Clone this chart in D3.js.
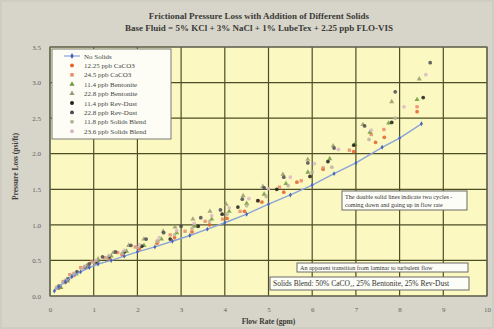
<!DOCTYPE html>
<html>
<head>
<meta charset="utf-8">
<script src="https://cdn.jsdelivr.net/npm/d3@7"></script>
<style>
  body { margin: 0; background: #d7d5ca; }
  svg { display: block; font-family: "Liberation Serif", "DejaVu Serif", serif; }
</style>
</head>
<body>
<svg id="Chart"></svg>
<script>
// ---- data ----
let seriesNames = ['No Solids', '12.25 ppb CaCO3', '24.5 ppb CaCO3', '11.4 ppb Bentonite',
  '22.8 ppb Bentonite', '11.4 ppb Rev-Dust', '22.8 ppb Rev-Dust', '11.8 ppb Solids Blend', '23.6 ppb Solids Blend'];

let noSolidsFlow = [0.1, 0.2, 0.35, 0.5, 0.7, 0.9, 1.1, 1.4, 1.7, 2.0, 2.4, 2.8, 3.2, 3.6, 4.0, 4.5, 5.0, 5.5, 6.0, 6.5, 7.0, 7.6, 8.0, 8.5];
let noSolidsLoss = [0.07, 0.13, 0.2, 0.27, 0.34, 0.4, 0.45, 0.5, 0.56, 0.62, 0.69, 0.77, 0.85, 0.94, 1.03, 1.15, 1.29, 1.42, 1.56, 1.72, 1.87, 2.09, 2.22, 2.42];

let caco3LowFlow = [0.2, 0.35, 0.55, 0.8, 1.05, 1.35, 1.65, 2.05, 2.45, 2.85, 3.25, 3.65, 4.05, 4.45, 4.85, 5.35, 5.65, 6.25, 6.95, 7.45, 7.65, 8.4];
let caco3LowLoss = [0.11, 0.19, 0.29, 0.39, 0.46, 0.52, 0.58, 0.66, 0.74, 0.82, 0.9, 1.0, 1.09, 1.19, 1.32, 1.46, 1.6, 1.78, 2.03, 2.16, 2.23, 2.59];

let caco3HighFlow = [0.15, 0.3, 0.45, 0.7, 0.95, 1.25, 1.55, 1.95, 2.47, 2.75, 3.09, 3.55, 3.95, 4.35, 4.75, 5.25, 5.75, 6.25, 6.85, 7.35, 7.64, 8.4];
let caco3HighLoss = [0.12, 0.2, 0.3, 0.4, 0.48, 0.54, 0.61, 0.69, 0.77, 0.86, 0.91, 1.05, 1.08, 1.19, 1.34, 1.53, 1.62, 1.8, 2.05, 2.27, 2.34, 2.66];

let bentLowFlow = [0.25, 0.4, 0.6, 0.85, 1.1, 1.4, 1.75, 2.15, 2.55, 2.9, 3.3, 3.7, 4.1, 4.5, 4.9, 5.4, 5.9, 6.4, 6.98, 7.32, 7.75, 8.4];
let bentLowLoss = [0.12, 0.21, 0.31, 0.41, 0.49, 0.56, 0.63, 0.71, 0.8, 0.89, 0.98, 1.08, 1.19, 1.3, 1.43, 1.58, 1.74, 1.93, 2.13, 2.3, 2.43, 2.76];

let bentHighFlow = [0.18, 0.38, 0.6, 0.85, 1.1, 1.45, 1.8, 2.15, 2.59, 2.86, 3.27, 3.66, 4.03, 4.42, 4.87, 5.33, 5.9, 6.48, 7.16, 7.82, 8.45];
let bentHighLoss = [0.13, 0.23, 0.33, 0.43, 0.52, 0.61, 0.71, 0.8, 0.91, 0.97, 1.08, 1.19, 1.29, 1.41, 1.54, 1.71, 1.92, 2.11, 2.41, 2.73, 3.05];

let revLowFlow = [0.2, 0.35, 0.55, 0.8, 1.05, 1.35, 1.7, 2.1, 2.75, 3.39, 3.94, 4.3, 4.76, 5.19, 5.95, 6.36, 6.95, 7.82, 8.54];
let revLowLoss = [0.13, 0.21, 0.31, 0.41, 0.48, 0.55, 0.62, 0.7, 0.8, 0.98, 1.15, 1.25, 1.34, 1.5, 1.68, 1.89, 2.12, 2.44, 2.79];

let revHighFlow = [0.22, 0.42, 0.62, 0.9, 1.2, 1.5, 1.85, 2.2, 2.6, 3.0, 3.45, 3.9, 4.4, 4.9, 5.35, 5.9, 6.5, 7.2, 7.9, 8.7];
let revHighLoss = [0.14, 0.24, 0.34, 0.45, 0.55, 0.62, 0.71, 0.8, 0.89, 0.98, 1.1, 1.21, 1.36, 1.52, 1.67, 1.87, 2.08, 2.39, 2.87, 3.28];

let blendLowFlow = [0.15, 0.3, 0.5, 0.75, 1.0, 1.3, 1.65, 2.0, 2.45, 2.85, 3.25, 3.65, 4.05, 4.5, 4.95, 5.45, 6.0, 6.45, 7.3, 7.9];
let blendLowLoss = [0.11, 0.19, 0.29, 0.39, 0.47, 0.53, 0.6, 0.68, 0.77, 0.86, 0.95, 1.05, 1.15, 1.27, 1.4, 1.55, 1.74, 1.81, 2.2, 2.5];

let blendHighFlow = [0.2, 0.35, 0.55, 0.8, 1.05, 1.35, 1.7, 2.05, 2.5, 2.9, 3.3, 3.7, 4.1, 4.55, 5.0, 5.5, 6.05, 6.6, 7.35, 8.1, 8.6];
let blendHighLoss = [0.13, 0.22, 0.32, 0.42, 0.5, 0.57, 0.64, 0.72, 0.82, 0.92, 1.02, 1.13, 1.24, 1.37, 1.51, 1.67, 1.86, 2.06, 2.33, 2.66, 3.11];

let xTicks = [0, 1, 2, 3, 4, 5, 6, 7, 8, 9, 10];
let yTicks = [0, 0.5, 1.0, 1.5, 2.0, 2.5, 3.0, 3.5];

let titleLines = ['Frictional Pressure Loss with Addition of Different Solids',
  'Base Fluid = 5% KCl + 3% NaCl + 1% LubeTex + 2.25 ppb FLO-VIS'];
let noteCycles = ['The double solid lines indicate two cycles -', 'coming down and going up in flow rate'];
let noteTransition = 'An apparent transition from laminar to turbulent flow';
let noteBlend = 'Solids Blend: 50% CaCO\u2083, 25% Bentonite, 25% Rev-Dust';

function zipSeries(flow, loss) {
  return flow.map((f, i) => ({ x: f, y: loss[i] }));
}

let scatter = [
  { name: seriesNames[1], pts: zipSeries(caco3LowFlow, caco3LowLoss), color: '#e4602a', shape: d3.symbolCircle },
  { name: seriesNames[2], pts: zipSeries(caco3HighFlow, caco3HighLoss), color: '#e98a6a', shape: d3.symbolSquare },
  { name: seriesNames[3], pts: zipSeries(bentLowFlow, bentLowLoss), color: '#6f9a3c', shape: d3.symbolTriangle },
  { name: seriesNames[4], pts: zipSeries(bentHighFlow, bentHighLoss), color: '#9a9a70', shape: d3.symbolTriangle },
  { name: seriesNames[5], pts: zipSeries(revLowFlow, revLowLoss), color: '#1e1e18', shape: d3.symbolCircle },
  { name: seriesNames[6], pts: zipSeries(revHighFlow, revHighLoss), color: '#4a4a52', shape: d3.symbolCircle },
  { name: seriesNames[7], pts: zipSeries(blendLowFlow, blendLowLoss), color: '#b8b4a0', shape: d3.symbolCircle },
  { name: seriesNames[8], pts: zipSeries(blendHighFlow, blendHighLoss), color: '#d8b8c8', shape: d3.symbolCircle }
];

function getConfig() {
  let width = 494;
  let height = 329;
  let margin = { top: 47, bottom: 33, left: 50, right: 7 };
  let bodyWidth = width - margin.left - margin.right;
  let bodyHeight = height - margin.top - margin.bottom;
  let container = d3.select('#Chart').attr('width', width).attr('height', height);
  return { width, height, margin, bodyWidth, bodyHeight, container };
}

function getScales(config) {
  let xScale = d3.scaleLinear().domain([0, 10]).range([0, config.bodyWidth]);
  let yScale = d3.scaleLinear().domain([0, 3.5]).range([config.bodyHeight, 0]);
  return { xScale, yScale };
}

function drawFrame(config, scales) {
  let { container, margin, bodyWidth, bodyHeight, width } = config;
  let { xScale, yScale } = scales;

  container.append('rect')
    .attr('x', 1).attr('y', 1).attr('width', width - 2).attr('height', config.height - 2)
    .attr('fill', '#d7d5ca').attr('stroke', '#c8c6ba');

  let body = container.append('g')
    .attr('transform', `translate(${margin.left},${margin.top})`);

  body.append('rect')
    .attr('width', bodyWidth).attr('height', bodyHeight)
    .attr('fill', '#fbf8c2');

  body.append('g').selectAll('line').data(xTicks).enter().append('line')
    .attr('x1', d => xScale(d)).attr('x2', d => xScale(d))
    .attr('y1', 0).attr('y2', bodyHeight)
    .attr('stroke', '#4e4e26').attr('stroke-width', 1.2);

  body.append('g').selectAll('line').data(yTicks).enter().append('line')
    .attr('x1', 0).attr('x2', bodyWidth)
    .attr('y1', d => yScale(d)).attr('y2', d => yScale(d))
    .attr('stroke', '#4e4e26').attr('stroke-width', 1.2);

  body.append('rect')
    .attr('width', bodyWidth).attr('height', bodyHeight)
    .attr('fill', 'none').attr('stroke', '#6a6a60').attr('stroke-width', 1.2);

  let axisX = d3.axisBottom(xScale).tickValues(xTicks).tickSize(0).tickPadding(11).tickFormat(d3.format('d'));
  let gx = body.append('g').attr('transform', `translate(0,${bodyHeight})`).call(axisX);
  let axisY = d3.axisLeft(yScale).tickValues(yTicks).tickSize(0).tickPadding(9).tickFormat(d3.format('.1f'));
  let gy = body.append('g').call(axisY);
  [gx, gy].forEach(g => {
    g.select('.domain').remove();
    g.selectAll('text').attr('fill', '#62625e').style('font-size', '7px')
      .style('font-family', '"Liberation Serif", serif');
  });

  return body;
}

function drawData(body, scales) {
  let { xScale, yScale } = scales;
  let base = zipSeries(noSolidsFlow, noSolidsLoss);

  scatter.forEach(s => {
    body.append('g').selectAll('path').data(s.pts).enter().append('path')
      .attr('d', d3.symbol().type(s.shape).size(11))
      .attr('transform', d => `translate(${xScale(d.x)},${yScale(d.y)})`)
      .attr('fill', s.color).attr('opacity', 0.85);
  });

  let line = d3.line().x(d => xScale(d.x)).y(d => yScale(d.y));
  body.append('path').datum(base)
    .attr('d', line).attr('fill', 'none')
    .attr('stroke', '#8aa4d8').attr('stroke-width', 1.4);
  body.append('g').selectAll('path').data(base).enter().append('path')
    .attr('d', d3.symbol().type(d3.symbolDiamond).size(7))
    .attr('transform', d => `translate(${xScale(d.x)},${yScale(d.y)})`)
    .attr('fill', '#4a62b8');
}

function drawLegend(body) {
  let lg = body.append('g').attr('transform', 'translate(2,2)');
  lg.append('rect').attr('width', 119).attr('height', 90)
    .attr('fill', '#fdfdf6').attr('stroke', '#7a7a74');
  let rows = lg.selectAll('.row').data(seriesNames).enter().append('g')
    .attr('transform', (d, i) => `translate(0,${7 + i * 9.4})`);
  rows.filter((d, i) => i === 0).append('line')
    .attr('x1', 12).attr('x2', 28).attr('stroke', '#8aa4d8').attr('stroke-width', 1.2);
  rows.filter((d, i) => i === 0).append('path')
    .attr('d', d3.symbol().type(d3.symbolDiamond).size(10))
    .attr('transform', 'translate(20,0)').attr('fill', '#4a62b8');
  rows.filter((d, i) => i > 0).append('path')
    .attr('d', (d, i) => d3.symbol().type(scatter[i].shape).size(12)())
    .attr('transform', 'translate(20,0)')
    .attr('fill', (d, i) => scatter[i].color);
  rows.append('text').attr('x', 32).attr('y', 2.5).text(d => d)
    .attr('fill', '#444').style('font-size', '7px');
}

function drawNotes(body, config) {
  let boxes = [
    { x: 292, y: 144, w: 125, h: 19, lines: noteCycles },
    { x: 247, y: 216, w: 171, h: 9, lines: [noteTransition] },
    { x: 220, y: 230, w: 199, h: 13, lines: [noteBlend] }
  ];
  boxes.forEach(b => {
    let g = body.append('g').attr('transform', `translate(${b.x},${b.y})`);
    g.append('rect').attr('width', b.w).attr('height', b.h)
      .attr('fill', '#fdfdf8').attr('stroke', '#6a6a66').attr('stroke-width', 1);
    g.selectAll('text').data(b.lines).enter().append('text')
      .attr('x', 3).attr('y', (d, i) => (b.lines.length > 1 ? 7.5 + i * 8 : b.h / 2 + 2.5))
      .text(d => d).attr('fill', '#333')
      .style('font-size', b.h > 10 && b.lines.length === 1 ? '7.5px' : '6.2px');
  });
}

function drawTitles(config) {
  let { container, margin, bodyWidth, bodyHeight } = config;
  container.selectAll('.title').data(titleLines).enter().append('text')
    .attr('x', 259).attr('y', (d, i) => 19 + i * 12)
    .attr('text-anchor', 'middle').text(d => d)
    .attr('fill', '#3a3a36').style('font-size', '9px').style('font-weight', 'bold');

  container.append('text')
    .attr('x', margin.left + bodyWidth / 2).attr('y', 324)
    .attr('text-anchor', 'middle').text('Flow Rate (gpm)')
    .attr('fill', '#3a3a36').style('font-size', '7.5px').style('font-weight', 'bold');

  container.append('text')
    .attr('transform', `translate(18,${margin.top + bodyHeight / 2 - 5}) rotate(-90)`)
    .attr('text-anchor', 'middle').text('Pressure Loss (psi/ft)')
    .attr('fill', '#3a3a36').style('font-size', '7.5px').style('font-weight', 'bold');
}

function drawChart() {
  let config = getConfig();
  let scales = getScales(config);
  let body = drawFrame(config, scales);
  drawData(body, scales);
  drawLegend(body);
  drawNotes(body, config);
  drawTitles(config);
}

drawChart();
</script>
</body>
</html>
